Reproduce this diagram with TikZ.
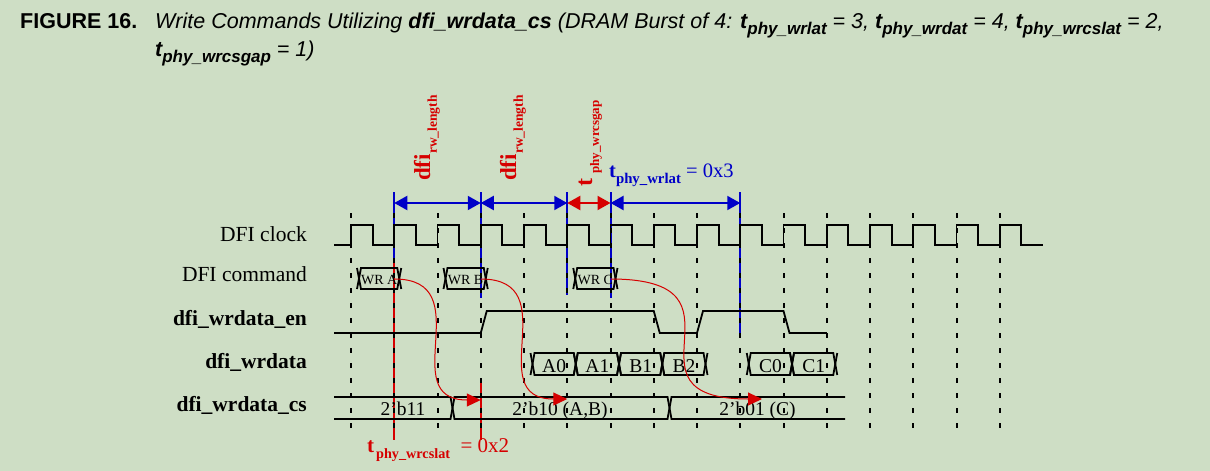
\documentclass[tikz,border=0pt]{standalone}
\usepackage{fontspec}
\setmainfont{Liberation Serif}
\newfontfamily\titlefont{Liberation Sans}
\usetikzlibrary{arrows.meta}
\definecolor{PageGreen}{RGB}{206,222,197}
\definecolor{DimBlue}{RGB}{0,0,200}
\definecolor{DimRed}{RGB}{214,0,0}
\newcommand{\px}[1]{\fontsize{#1}{#1}\selectfont}
\newcommand{\lowsub}[2]{\raisebox{-0.3em}{\px{#1}#2}}
\newcommand{\gx}[1]{351+43.25*#1}

\begin{document}
\begin{tikzpicture}[x=1pt, y=-1pt,
    sig/.style={line width=1.8pt, black},
    gridline/.style={line width=2pt, dash pattern=on 5pt off 10pt},
    lbl/.style={anchor=base east, inner sep=0pt, font=\px{21.5}},
    bus/.style={anchor=base, inner sep=0pt, font=\px{19.5}},
    marker/.style={line width=2pt},
    dimarr/.style={{Triangle[length=13pt,width=14pt]}-{Triangle[length=13pt,width=14pt]},
                   line width=2pt},
    curv/.style={-{Triangle[length=14pt,width=13pt]}, DimRed, line width=1pt}
  ]
  \fill[PageGreen] (0,0) rectangle (1210,471);
  \useasboundingbox (0,0) rectangle (1210,471);

  % Caption
  \node[anchor=base west, inner sep=0pt, font=\titlefont\bfseries\px{21.5}] (fig) at (20,28) {FIGURE 16.};
  \node[anchor=base west, inner sep=0pt, font=\titlefont\itshape\px{21.5}] (cap1) at (155,28)
    {Write Commands Utilizing \textbf{dfi\_wrdata\_cs} (DRAM Burst of 4: \textbf{t\lowsub{17}{phy\_wrlat}} = 3,
     \textbf{t\lowsub{17}{phy\_wrdat}} = 4, \textbf{t\lowsub{17}{phy\_wrcslat}} = 2,};
  \node[anchor=base west, inner sep=0pt, font=\titlefont\itshape\px{21.5}] (cap2) at (155,56)
    {\textbf{t\lowsub{17}{phy\_wrcsgap}} = 1)};

  % Signal names
  \node[lbl] (lclk) at (307,241) {DFI clock};
  \node[lbl] (lcmd) at (307,281.5) {DFI command};
  \node[lbl, font=\bfseries\px{21.5}] (len) at (307,325) {dfi\_wrdata\_en};
  \node[lbl, font=\bfseries\px{21.5}] (ldat) at (307,368) {dfi\_wrdata};
  \node[lbl, font=\bfseries\px{21.5}] (lcs) at (307,411.5) {dfi\_wrdata\_cs};

  % Timing markers
  \foreach \k in {1,3,5,6,9}
    \coordinate (m\k) at ({\gx{\k}},203);
  \draw[marker, DimBlue] ({\gx{1}},192) -- ({\gx{1}},262);
  \draw[marker, DimRed]  ({\gx{1}},262) -- ({\gx{1}},440);
  \draw[marker, DimBlue] ({\gx{3}},192) -- ({\gx{3}},298);
  \draw[marker, DimRed]  ({\gx{3}},380) -- ({\gx{3}},440);
  \draw[marker, DimBlue] ({\gx{5}},192) -- ({\gx{5}},295);
  \draw[marker, DimBlue] ({\gx{6}},192) -- ({\gx{6}},298);
  \draw[marker, DimBlue] ({\gx{9}},192) -- ({\gx{9}},333);
  \draw[dimarr, DimBlue] (m1) -- (m3);
  \draw[dimarr, DimBlue] (m3) -- (m5);
  \draw[dimarr, DimRed]  (m5) -- (m6);
  \draw[dimarr, DimBlue] (m6) -- (m9);

  % Clock edges grid
  \foreach \k in {0,...,15}
    \draw[gridline] ({\gx{\k}},213) -- ({\gx{\k}},431);

  % DFI clock
  \draw[sig] (334,245) \foreach \k in {0,...,15} {
      -- ({\gx{\k}},245) -- ({\gx{\k}},225) -- ({\gx{\k}+21.6},225) -- ({\gx{\k}+21.6},245)
    } -- (1043,245);

  % DFI command
  \foreach \k/\v in {0/A, 2/B, 5/C} {
    \pgfmathsetmacro{\L}{\gx{\k}+8}
    \pgfmathsetmacro{\R}{\gx{\k}+43.25+5}
    \draw[sig] ({\L-2},268) -- ({\L+2},289) -- ({\R-2},289) -- ({\R+2},268);
    \draw[sig] ({\L-2},289) -- ({\L+2},268) -- ({\R-2},268) -- ({\R+2},289);
    \node[bus, font=\px{14}] (cmd\v) at ({(\L+\R)/2},284) {WR \v};
  }

  % dfi_wrdata_en
  \draw[sig] (334,333) -- ({\gx{3}},333) -- ({\gx{3}+6},311) -- ({\gx{7}},311)
    -- ({\gx{7}+6},333) -- ({\gx{8}},333) -- ({\gx{8}+6},311) -- ({\gx{10}},311)
    -- ({\gx{10}+6},333) -- ({\gx{11}},333);

  % dfi_wrdata
  \foreach \k/\v in {4/A0, 5/A1, 6/B1, 7/B2, 9/C0, 10/C1} {
    \pgfmathsetmacro{\L}{\gx{\k}+8.5}
    \pgfmathsetmacro{\R}{\gx{\k}+43.25+8.5}
    \draw[sig] ({\L-2},353) -- ({\L+2},375) -- ({\R-2},375) -- ({\R+2},353);
    \draw[sig] ({\L-2},375) -- ({\L+2},353) -- ({\R-2},353) -- ({\R+2},375);
    \node[bus] (dat\v) at ({(\L+\R)/2},372.5) {\v};
  }

  % dfi_wrdata_cs
  \draw[sig] (334,397) -- (450.5,397) -- (454.5,419) -- (667.5,419) -- (671.5,397) -- (845,397);
  \draw[sig] (334,419) -- (450.5,419) -- (454.5,397) -- (667.5,397) -- (671.5,419) -- (845,419);
  \node[bus] (cs11) at (403,415) {2'b11};
  \node[bus] (cs10) at (560,415) {2'b10 (A,B)};
  \node[bus] (cs01) at (757.5,415) {2'b01 (C)};

  % Labels
  \node[rotate=90, anchor=base west, inner sep=0pt, DimRed, font=\bfseries\px{23}] (rwlenA) at (430,181)
    {dfi\lowsub{13.5}{rw\_length}};
  \node[rotate=90, anchor=base west, inner sep=0pt, DimRed, font=\bfseries\px{23}] (rwlenB) at (516,181)
    {dfi\lowsub{13.5}{rw\_length}};
  \node[rotate=90, anchor=base west, inner sep=0pt, DimRed, font=\bfseries\px{24}] (csgap) at (592,187)
    {t\hspace{5pt}\lowsub{13}{phy\_wrcsgap}};
  \node[anchor=base west, inner sep=0pt, DimBlue, font=\px{20.5}] (wrlat) at (609,177)
    {\textbf{t\lowsub{14.8}{phy\_wrlat}} = 0x3};
  \node[anchor=base west, inner sep=0pt, DimRed, font=\px{21}] (cslat) at (367,452)
    {\textbf{t\hspace{2pt}\lowsub{14.2}{phy\_wrcslat}} \ = 0x2};

  % Command to chip select
  \coordinate (srcA) at ({\gx{1}},279);
  \coordinate (srcB) at ({\gx{3}},279);
  \coordinate (srcC) at ({\gx{6}},279);
  \coordinate (dstA) at ({\gx{3}},400);
  \coordinate (dstB) at ({\gx{5}},399);
  \coordinate (dstC) at (762,399);
  \foreach \v in {A,B,C}
    \draw[curv] (src\v) .. controls (src\v -| dst\v) and (dst\v -| src\v) .. (dst\v);
\end{tikzpicture}
\end{document}
